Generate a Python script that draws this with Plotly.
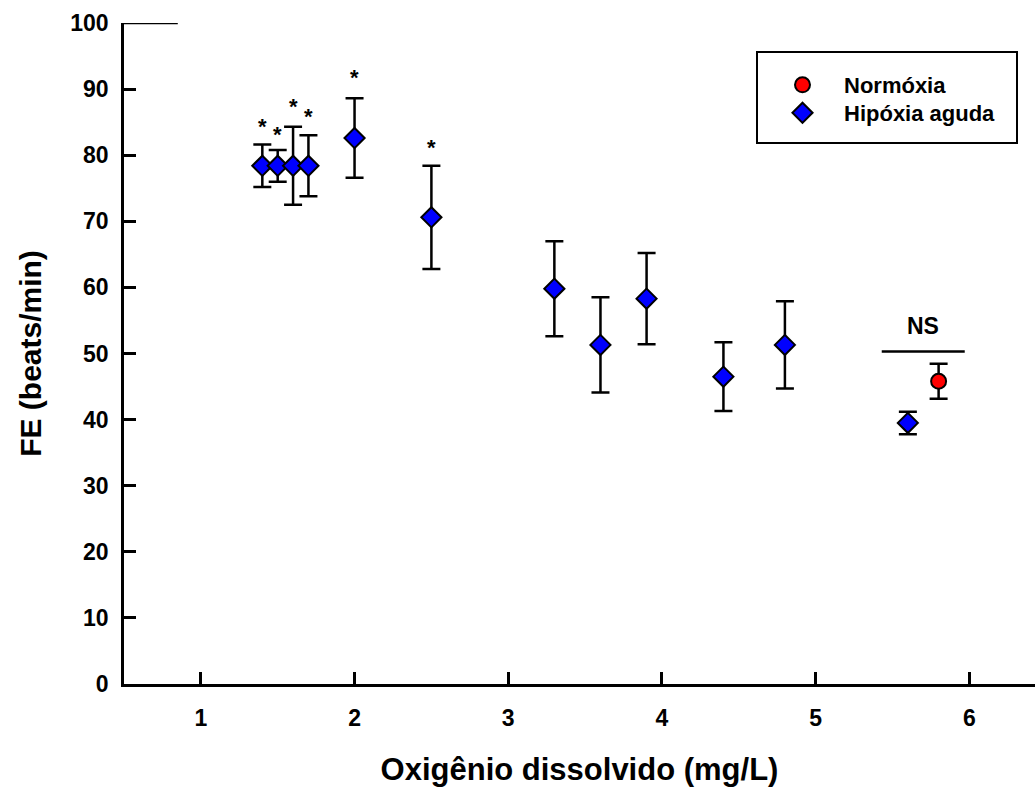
import plotly.graph_objects as go

# Data
hyp_x = [1.4, 1.5, 1.6, 1.7, 2.0, 2.5, 3.3, 3.6, 3.9, 4.4, 4.8, 5.6]
hyp_y = [78.4, 78.4, 78.4, 78.4, 82.6, 70.6, 59.8, 51.3, 58.3, 46.5, 51.3, 39.5]
hyp_err = [3.2, 2.4, 5.9, 4.6, 6.0, 7.8, 7.2, 7.2, 6.9, 5.2, 6.6, 1.7]

norm_x = [5.8]
norm_y = [45.8]
norm_err = [2.65]

star_x = [1.4, 1.5, 1.6, 1.7, 2.0, 2.5]
star_y = [84.7, 83.4, 87.6, 86.2, 92.1, 81.5]

ns_x = [5.43, 5.97]
ns_y = 50.3
ns_label_y = 54.1

x_ticks = [1, 2, 3, 4, 5, 6]
y_ticks = [0, 10, 20, 30, 40, 50, 60, 70, 80, 90, 100]

FONT = "Liberation Sans, Arial, sans-serif"

fig = go.Figure()

fig.add_trace(go.Scatter(
    x=norm_x, y=norm_y, mode="markers", name="Normóxia", legend="legend",
    marker=dict(symbol="circle", size=15, color="#ff0000",
                line=dict(color="black", width=2)),
    error_y=dict(type="data", array=norm_err, color="black",
                 thickness=2.5, width=9),
))
fig.add_trace(go.Scatter(
    x=hyp_x, y=hyp_y, mode="markers", name="Hipóxia aguda", legend="legend2",
    marker=dict(symbol="diamond", size=15.5, color="#0000ff",
                line=dict(color="black", width=2)),
    error_y=dict(type="data", array=hyp_err, color="black",
                 thickness=2.5, width=9),
))

annotations = []
for sx, sy in zip(star_x, star_y):
    annotations.append(dict(x=sx, y=sy, text="<b>*</b>", showarrow=False,
                            xanchor="center", yanchor="middle", yshift=-2,
                            font=dict(family=FONT, size=22, color="black")))
annotations.append(dict(x=sum(ns_x) / 2, y=ns_label_y, text="<b>NS</b>",
                        showarrow=False, xanchor="center", yanchor="middle",
                        font=dict(family=FONT, size=23, color="black")))

shapes = [
    dict(type="line", xref="x", yref="y", x0=ns_x[0], x1=ns_x[1],
         y0=ns_y, y1=ns_y, line=dict(color="black", width=2.5)),
    # legend box
    dict(type="rect", xref="paper", yref="paper",
         x0=(757 - 124) / 911, x1=(1017 - 124) / 911,
         y0=(684 - 143) / 661, y1=(684 - 52) / 661,
         line=dict(color="black", width=2), fillcolor="rgba(0,0,0,0)"),
    # short top line at y=100
    dict(type="line", xref="x", yref="y", x0=0.5, x1=0.85, y0=100, y1=100,
         line=dict(color="black", width=2.5)),
]

legend_common = dict(xanchor="left", yanchor="top",
                     bgcolor="rgba(0,0,0,0)", borderwidth=0,
                     font=dict(family=FONT, size=22, color="black", weight="bold"),
                     itemwidth=73, itemsizing="trace")

fig.update_layout(
    width=1035, height=787,
    margin=dict(l=124, r=0, t=23, b=103),
    paper_bgcolor="white", plot_bgcolor="white",
    font=dict(family=FONT, color="black"),
    showlegend=True,
    legend=dict(x=(761 - 124) / 911, y=(684 - 64) / 661, **legend_common),
    legend2=dict(x=(761 - 124) / 911, y=(684 - 92) / 661, **legend_common),
    annotations=annotations,
    shapes=shapes,
    xaxis=dict(range=[0.5, 0.5 + 911 / 153.7], tickvals=x_ticks,
               ticks="inside", ticklen=12, tickwidth=2.5, tickcolor="black",
               showline=True, linewidth=2.5, linecolor="black",
               showgrid=False, zeroline=False,
               tickfont=dict(family=FONT, size=23, weight="bold"),
               ticklabelstandoff=12,
               title=dict(text="Oxigênio dissolvido (mg/L)", standoff=30,
                          font=dict(family=FONT, size=31, weight="bold"))),
    yaxis=dict(range=[0, 100], tickvals=y_ticks,
               ticks="inside", ticklen=12, tickwidth=2.5, tickcolor="black",
               showline=True, linewidth=2.5, linecolor="black",
               showgrid=False, zeroline=False,
               tickfont=dict(family=FONT, size=23, weight="bold"),
               ticklabelstandoff=8,
               title=dict(text="FE (beats/min)", standoff=20,
                          font=dict(family=FONT, size=30, weight="bold"))),
)

fig.write_html("out.html")
